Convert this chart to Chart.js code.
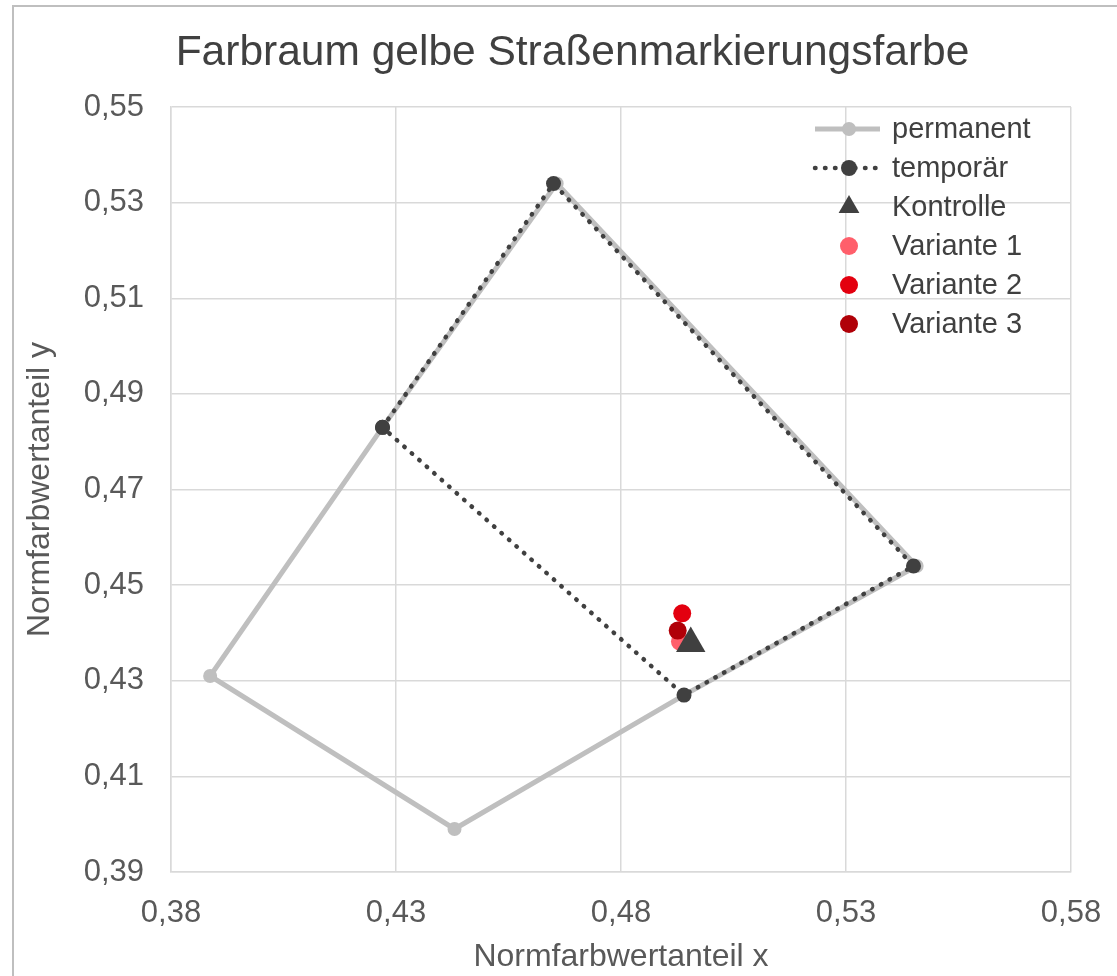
<!DOCTYPE html>
<html lang="de">
<head>
  <meta charset="UTF-8">
  <title>Farbraum gelbe Straßenmarkierungsfarbe</title>
  <script src="https://cdn.jsdelivr.net/npm/chart.js"></script>
  <style>
    body {
      margin: 0;
      background: #ffffff;
    }
    .wrap {
      width: 1117px;
      height: 976px;
      position: relative;
    }
  </style>
</head>
<body>
  <div class="wrap">
    <canvas id="chart"></canvas>
  </div>

  <script>
    // Grenzlinien der Farbräume (geschlossene Polygone)
    const permX = [0.427, 0.3887, 0.443, 0.494, 0.5457, 0.4657, 0.427];
    const permY = [0.483, 0.431, 0.399, 0.427, 0.454, 0.534, 0.483];
    const tempX = [0.427, 0.465, 0.545, 0.494, 0.427];
    const tempY = [0.483, 0.534, 0.454, 0.427, 0.483];

    // Messpunkte
    const kontrolleX = [0.4955];
    const kontrolleY = [0.4378];
    const var1X = [0.4931];
    const var1Y = [0.4382];
    const var2X = [0.4936];
    const var2Y = [0.4441];
    const var3X = [0.4926];
    const var3Y = [0.4405];

    const xTicks = [0.38, 0.43, 0.48, 0.53, 0.58];
    const yTicks = [0.39, 0.41, 0.43, 0.45, 0.47, 0.49, 0.51, 0.53, 0.55];

    const toPoints = (xs, ys) => xs.map((x, i) => ({ x: x, y: ys[i] }));
    const fmt = v => v.toFixed(2).replace(".", ",");

    const FONT = "'Liberation Sans', Arial, sans-serif";

    // Rahmen links/oben wie im Original, Titel etwas nach rechts schieben
    const framePlugin = {
      id: "frame",
      afterLayout(chart) {
        if (chart.titleBlock) {
          chart.titleBlock.left += 74;
        }
      },
      beforeDraw(chart) {
        const ctx = chart.ctx;
        ctx.save();
        ctx.fillStyle = "#ffffff";
        ctx.fillRect(0, 0, chart.width, chart.height);
        ctx.strokeStyle = "#BFBFBF";
        ctx.lineWidth = 2;
        ctx.beginPath();
        ctx.moveTo(13, chart.height);
        ctx.lineTo(13, 6);
        ctx.lineTo(chart.width, 6);
        ctx.stroke();
        ctx.restore();
      }
    };

    // Legende innerhalb des Diagrammbereichs oben rechts
    const innerLegend = {
      id: "innerLegend",
      afterDraw(chart) {
        const { ctx, chartArea } = chart;
        const x0 = chartArea.right - 256;
        const x1 = chartArea.right - 191;
        const xm = chartArea.right - 222;
        const tx = chartArea.right - 179;
        chart.data.datasets.forEach((ds, i) => {
          const y = chartArea.top + 22 + i * 39;
          ctx.save();
          if (ds.showLine) {
            ctx.strokeStyle = ds.borderColor;
            ctx.lineWidth = ds.borderWidth;
            ctx.lineCap = ds.borderCapStyle || "butt";
            ctx.setLineDash(ds.borderDash || []);
            ctx.beginPath();
            ctx.moveTo(x0, y);
            ctx.lineTo(x1, y);
            ctx.stroke();
            ctx.setLineDash([]);
          }
          ctx.fillStyle = ds.pointBackgroundColor;
          ctx.beginPath();
          if (ds.pointStyle === "triangle") {
            const r = 12;
            ctx.moveTo(xm, y - r);
            ctx.lineTo(xm + r * 0.866, y + r * 0.5);
            ctx.lineTo(xm - r * 0.866, y + r * 0.5);
            ctx.closePath();
          } else {
            ctx.arc(xm, y, ds.legendRadius, 0, Math.PI * 2);
          }
          ctx.fill();
          ctx.fillStyle = "#404040";
          ctx.font = "29px " + FONT;
          ctx.textAlign = "left";
          ctx.textBaseline = "middle";
          ctx.fillText(ds.label, tx, y + 1);
          ctx.restore();
        });
      }
    };

    const ctx = document.getElementById("chart").getContext("2d");
    new Chart(ctx, {
      type: "scatter",
      data: {
        datasets: [
          {
            label: "permanent",
            data: toPoints(permX, permY),
            showLine: true,
            borderColor: "#BFBFBF",
            borderWidth: 5,
            pointBackgroundColor: "#BFBFBF",
            pointBorderWidth: 0,
            pointRadius: 7,
            legendRadius: 7,
            order: 6
          },
          {
            label: "temporär",
            data: toPoints(tempX, tempY),
            showLine: true,
            borderColor: "#404040",
            borderWidth: 4.5,
            borderDash: [0.5, 9.5],
            borderCapStyle: "round",
            pointBackgroundColor: "#404040",
            pointBorderWidth: 0,
            pointRadius: 7.5,
            legendRadius: 8,
            order: 5
          },
          {
            label: "Kontrolle",
            data: toPoints(kontrolleX, kontrolleY),
            pointStyle: "triangle",
            backgroundColor: "#404040",
            pointBackgroundColor: "#404040",
            pointBorderWidth: 0,
            pointRadius: 17,
            order: 3
          },
          {
            label: "Variante 1",
            data: toPoints(var1X, var1Y),
            backgroundColor: "#FF5F6B",
            pointBackgroundColor: "#FF5F6B",
            pointBorderWidth: 0,
            pointRadius: 9,
            legendRadius: 9,
            order: 4
          },
          {
            label: "Variante 2",
            data: toPoints(var2X, var2Y),
            backgroundColor: "#E3000F",
            pointBackgroundColor: "#E3000F",
            pointBorderWidth: 0,
            pointRadius: 9,
            legendRadius: 9,
            order: 2
          },
          {
            label: "Variante 3",
            data: toPoints(var3X, var3Y),
            backgroundColor: "#B00008",
            pointBackgroundColor: "#B00008",
            pointBorderWidth: 0,
            pointRadius: 9,
            legendRadius: 9,
            order: 1
          }
        ]
      },
      options: {
        responsive: true,
        maintainAspectRatio: false,
        animation: false,
        layout: {
          padding: { left: 0, right: 46, top: 0, bottom: 0 }
        },
        plugins: {
          legend: { display: false },
          tooltip: { enabled: false },
          title: {
            display: true,
            text: "Farbraum gelbe Straßenmarkierungsfarbe",
            color: "#404040",
            font: { family: FONT, size: 42.5, weight: "normal" },
            padding: { top: 28, bottom: 28 }
          }
        },
        scales: {
          x: {
            type: "linear",
            min: xTicks[0],
            max: xTicks[xTicks.length - 1],
            afterBuildTicks: axis => {
              axis.ticks = xTicks.map(v => ({ value: v }));
            },
            afterFit: axis => {
              axis.height = 104;
              axis.paddingLeft = 0;
              axis.paddingRight = 0;
            },
            ticks: {
              color: "#595959",
              font: { family: FONT, size: 31 },
              padding: 23,
              maxRotation: 0,
              callback: v => fmt(v)
            },
            grid: { color: "#D9D9D9", lineWidth: 1.5, drawTicks: false },
            border: { color: "#D9D9D9", width: 1.5 },
            title: {
              display: true,
              text: "Normfarbwertanteil x",
              color: "#595959",
              font: { family: FONT, size: 32 },
              padding: { top: 0, bottom: 0 }
            }
          },
          y: {
            type: "linear",
            min: yTicks[0],
            max: yTicks[yTicks.length - 1],
            afterBuildTicks: axis => {
              axis.ticks = yTicks.map(v => ({ value: v }));
            },
            afterFit: axis => { axis.width = 171; },
            ticks: {
              color: "#595959",
              font: { family: FONT, size: 31 },
              padding: 27,
              callback: v => fmt(v)
            },
            grid: { color: "#D9D9D9", lineWidth: 1.5, drawTicks: false },
            border: { color: "#D9D9D9", width: 1.5 },
            title: {
              display: true,
              text: "Normfarbwertanteil y",
              color: "#595959",
              font: { family: FONT, size: 32 },
              padding: { top: 21, bottom: 0 }
            }
          }
        }
      },
      plugins: [framePlugin, innerLegend]
    });
  </script>
</body>
</html>
